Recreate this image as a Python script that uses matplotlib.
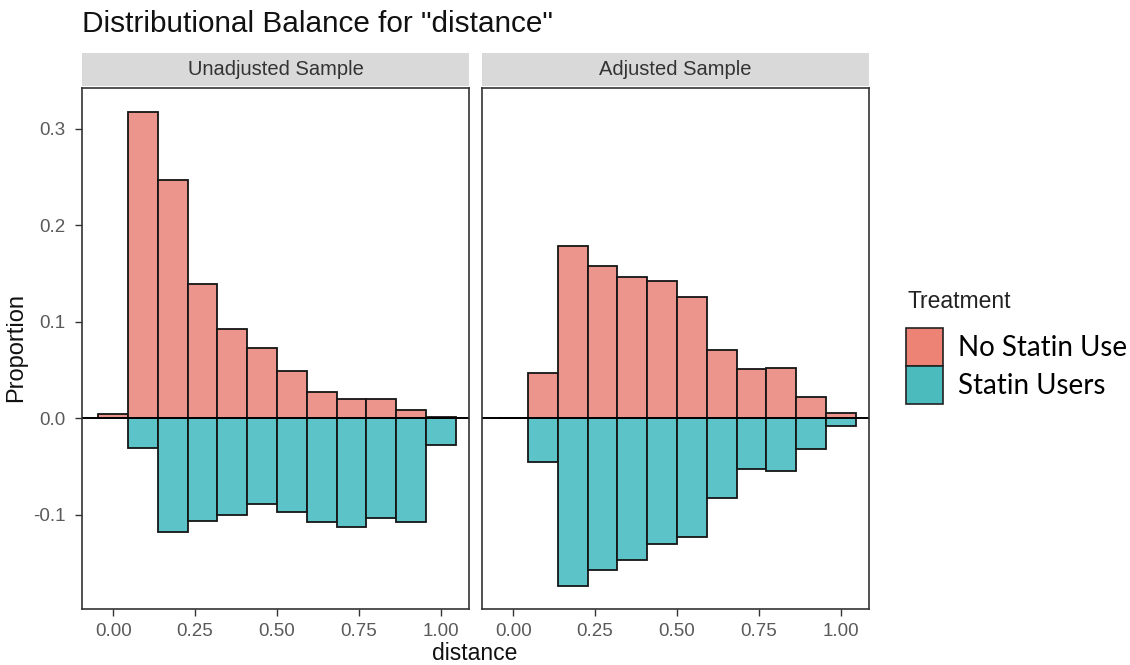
import matplotlib.pyplot as plt
from matplotlib.patches import Patch, Rectangle

# bin centres (12 bins of width 1/11 over the distance score)
bin_centers = [k / 11 for k in range(12)]
bin_width = 1 / 11

panels = ["Unadjusted Sample", "Adjusted Sample"]
groups = ["No Statin Use", "Statin Users"]

# proportions; statin users are drawn downward
unadj_no_statin = [0.004, 0.317, 0.247, 0.139, 0.092, 0.073, 0.049, 0.027, 0.020, 0.020, 0.008, 0.001]
unadj_statin = [0.0, 0.031, 0.118, 0.106, 0.100, 0.089, 0.097, 0.108, 0.113, 0.103, 0.107, 0.028]
adj_no_statin = [0.0, 0.047, 0.178, 0.158, 0.146, 0.142, 0.126, 0.071, 0.051, 0.052, 0.022, 0.005]
adj_statin = [0.0, 0.045, 0.174, 0.157, 0.147, 0.130, 0.123, 0.083, 0.053, 0.055, 0.032, 0.008]

y_ticks = [-0.1, 0.0, 0.1, 0.2, 0.3]
y_ticklabels = ["-0.1", "0.0", "0.1", "0.2", "0.3"]
x_ticks = [0.0, 0.25, 0.5, 0.75, 1.0]
x_ticklabels = ["0.00", "0.25", "0.50", "0.75", "1.00"]

pink_bar = "#EC958D"
teal_bar = "#5CC4C8"
pink_key = "#EC8374"
teal_key = "#4BBBBE"

plt.rcParams['font.family'] = ['Liberation Sans', 'DejaVu Sans']

W, H = 1130, 665
fig = plt.figure(figsize=(W / 100, H / 100), dpi=100)

def px_axes(x0, y0, x1, y1):
    return fig.add_axes([x0 / W, 1 - y1 / H, (x1 - x0) / W, (y1 - y0) / H])

ax_left = px_axes(82, 88, 469, 609)
ax_right = px_axes(482, 88, 869, 609)

data = [(unadj_no_statin, unadj_statin), (adj_no_statin, adj_statin)]

for i, ax in enumerate([ax_left, ax_right]):
    top, bottom = data[i]
    ax.bar(bin_centers, top, width=bin_width, color=pink_bar,
           edgecolor="#151515", linewidth=1.3)
    ax.bar(bin_centers, [-v for v in bottom], width=bin_width, color=teal_bar,
           edgecolor="#151515", linewidth=1.3)
    ax.axhline(0, color="black", linewidth=1.4)
    ax.set_xlim(-0.0955, 1.0865)
    ax.set_ylim(-0.1976, 0.342)
    ax.set_xticks(x_ticks)
    ax.set_xticklabels(x_ticklabels)
    ax.set_yticks(y_ticks)
    if i == 0:
        ax.set_yticklabels(y_ticklabels)
    else:
        ax.tick_params(axis="y", left=False, labelleft=False)
    ax.tick_params(colors="#333333", labelcolor="#5a5a5a", labelsize=13.5, length=5, width=1)
    ax.tick_params(axis="y", pad=7)
    ax.tick_params(axis="x", pad=5)
    for s in ax.spines.values():
        s.set_color("#333333")
        s.set_linewidth(1.2)
    # facet strip
    ax.add_patch(Rectangle((0, 1.004), 1, 0.064, transform=ax.transAxes, clip_on=False,
                           facecolor="#D9D9D9", edgecolor="none"))
    ax.text(0.5, 1.036, panels[i], transform=ax.transAxes, ha="center", va="center",
            fontsize=14.5, color="#333333")

fig.text(82 / W, 1 - 32 / H, 'Distributional Balance for "distance"', fontsize=21.4,
         ha="left", va="baseline", color="#111111")
fig.text(16 / W, 1 - 348 / H, "Proportion", rotation=90, fontsize=17,
         ha="center", va="center", color="#111111")
fig.text(475 / W, 1 - 653 / H, "distance", fontsize=16.5, ha="center", va="center",
         color="#111111")

# legend: title as plain text, keys stacked with no gap
fig.text(907 / W, 1 - 302 / H, "Treatment", fontsize=16.5, ha="left", va="center",
         color="#222222")
handles = [Patch(facecolor=pink_key, edgecolor="#222222", linewidth=1.2),
           Patch(facecolor=teal_key, edgecolor="#222222", linewidth=1.2)]
leg = fig.legend(handles, groups, loc="upper left",
                 bbox_to_anchor=(906 / W, 1 - 328 / H), frameon=False,
                 prop={"family": "Lato", "size": 20}, handlelength=1.33,
                 handleheight=1.726, labelspacing=0.0, handletextpad=0.54,
                 borderaxespad=0, borderpad=0)

fig.savefig("out.png", dpi=100)
